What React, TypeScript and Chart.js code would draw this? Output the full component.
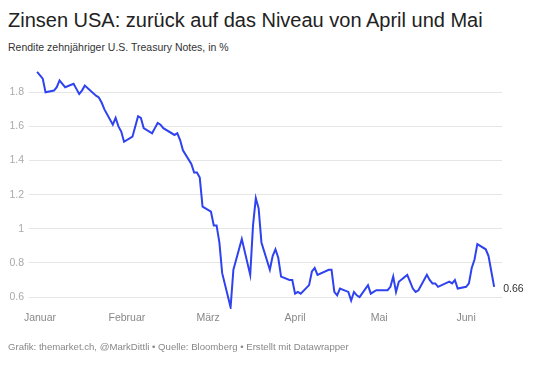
import React, { useEffect, useRef } from 'react';
import { Chart, registerables } from 'chart.js';

Chart.register(...registerables);

// ---- Data ----
const dates = [
  '2019-12-31', '2020-01-02', '2020-01-03', '2020-01-06', '2020-01-07', '2020-01-08', '2020-01-09', '2020-01-10',
  '2020-01-13', '2020-01-14', '2020-01-15', '2020-01-16', '2020-01-17', '2020-01-21', '2020-01-22', '2020-01-23',
  '2020-01-24', '2020-01-27', '2020-01-28', '2020-01-29', '2020-01-30', '2020-01-31',
  '2020-02-03', '2020-02-04', '2020-02-05', '2020-02-06', '2020-02-07', '2020-02-10', '2020-02-11', '2020-02-12',
  '2020-02-13', '2020-02-14', '2020-02-18', '2020-02-19', '2020-02-20', '2020-02-21', '2020-02-24', '2020-02-25',
  '2020-02-26', '2020-02-27', '2020-02-28',
  '2020-03-02', '2020-03-03', '2020-03-04', '2020-03-05', '2020-03-06', '2020-03-09', '2020-03-10', '2020-03-11',
  '2020-03-12', '2020-03-13', '2020-03-16', '2020-03-17', '2020-03-18', '2020-03-19', '2020-03-20', '2020-03-23',
  '2020-03-24', '2020-03-25', '2020-03-26', '2020-03-27', '2020-03-30', '2020-03-31',
  '2020-04-01', '2020-04-02', '2020-04-03', '2020-04-06', '2020-04-07', '2020-04-08', '2020-04-09', '2020-04-13',
  '2020-04-14', '2020-04-15', '2020-04-16', '2020-04-17', '2020-04-20', '2020-04-21', '2020-04-22', '2020-04-23',
  '2020-04-24', '2020-04-27', '2020-04-28', '2020-04-29', '2020-04-30',
  '2020-05-01', '2020-05-04', '2020-05-05', '2020-05-06', '2020-05-07', '2020-05-08', '2020-05-11', '2020-05-12',
  '2020-05-13', '2020-05-14', '2020-05-15', '2020-05-18', '2020-05-19', '2020-05-20', '2020-05-21', '2020-05-22',
  '2020-05-26', '2020-05-27', '2020-05-28', '2020-05-29',
  '2020-06-01', '2020-06-02', '2020-06-03', '2020-06-04', '2020-06-05', '2020-06-08', '2020-06-09', '2020-06-10',
  '2020-06-11',
];

const yields = [
  1.92, 1.88, 1.80, 1.81, 1.83, 1.87, 1.85, 1.83,
  1.85, 1.82, 1.79, 1.81, 1.84, 1.78, 1.77, 1.74,
  1.70, 1.61, 1.65, 1.60, 1.57, 1.51,
  1.54, 1.60, 1.66, 1.65, 1.59, 1.56, 1.59, 1.62,
  1.61, 1.59, 1.55, 1.56, 1.52, 1.46, 1.38, 1.33,
  1.33, 1.30, 1.13,
  1.10, 1.02, 1.02, 0.92, 0.74, 0.54, 0.76, 0.82,
  0.88, 0.94, 0.73, 1.02, 1.18, 1.12, 0.92, 0.76,
  0.84, 0.88, 0.83, 0.72, 0.70, 0.70,
  0.62, 0.63, 0.62, 0.67, 0.75, 0.77, 0.73, 0.76,
  0.76, 0.63, 0.61, 0.65, 0.63, 0.58, 0.63, 0.61,
  0.60, 0.67, 0.62, 0.63, 0.64,
  0.64, 0.64, 0.66, 0.72, 0.63, 0.69, 0.73, 0.69,
  0.65, 0.63, 0.64, 0.73, 0.70, 0.68, 0.68, 0.66,
  0.69, 0.68, 0.70, 0.65,
  0.66, 0.68, 0.77, 0.82, 0.91, 0.88, 0.84, 0.75,
  0.66,
];

const monthLabels = ['Januar', 'Februar', 'März', 'April', 'Mai', 'Juni'];
const monthStarts = ['2020-01-01', '2020-02-01', '2020-03-01', '2020-04-01', '2020-05-01', '2020-06-01'];
const yTicks = [0.6, 0.8, 1, 1.2, 1.4, 1.6, 1.8];

const TITLE = 'Zinsen USA: zurück auf das Niveau von April und Mai';
const SUBTITLE = 'Rendite zehnjähriger U.S. Treasury Notes, in %';
const FOOTER = 'Grafik: themarket.ch, @MarkDittli • Quelle: Bloomberg • Erstellt mit Datawrapper';

const FONT = '"Liberation Sans", Arial, Helvetica, sans-serif';
const LINE_COLOR = '#2e42ef';

function dayIndex(s: string): number {
  const [y, m, d] = s.split('-').map(Number);
  return (Date.UTC(y, m - 1, d) - Date.UTC(2020, 0, 1)) / 86400000;
}

const endLabelPlugin = {
  id: 'endLabel',
  afterDatasetsDraw(chart: any) {
    const meta = chart.getDatasetMeta(0);
    const pts = meta.data;
    if (!pts || !pts.length) return;
    const last = pts[pts.length - 1];
    const ctx = chart.ctx;
    ctx.save();
    ctx.font = `10.5px ${FONT}`;
    ctx.fillStyle = '#333333';
    ctx.textAlign = 'left';
    ctx.textBaseline = 'middle';
    ctx.fillText(String(yields[yields.length - 1]), last.x + 9, last.y + 2);
    ctx.restore();
  },
};

export default function App() {
  const canvasRef = useRef<HTMLCanvasElement | null>(null);

  useEffect(() => {
    if (!canvasRef.current) return;
    const points = dates.map((d, i) => ({ x: dayIndex(d), y: yields[i] }));
    const monthDays = monthStarts.map(dayIndex);
    const chart = new Chart(canvasRef.current, {
      type: 'line',
      data: {
        datasets: [
          {
            data: points,
            borderColor: LINE_COLOR,
            borderWidth: 2,
            pointRadius: 0,
            tension: 0,
            fill: false,
          },
        ],
      },
      options: {
        animation: false,
        responsive: false,
        maintainAspectRatio: false,
        layout: { padding: { top: 65, right: 38, bottom: 35, left: 0 } },
        plugins: { legend: { display: false }, tooltip: { enabled: false } },
        scales: {
          x: {
            type: 'linear',
            min: -3.9,
            max: 164.8,
            grid: { display: false, drawTicks: false },
            border: { display: false },
            afterBuildTicks: (scale: any) => {
              scale.ticks = monthDays.map((v) => ({ value: v }));
            },
            afterFit: (scale: any) => {
              scale.height = 22;
            },
            ticks: {
              autoSkip: false,
              maxRotation: 0,
              padding: 3,
              color: '#888888',
              font: { family: FONT, size: 10.5 },
              callback: (v: any) => {
                const idx = monthDays.indexOf(Number(v));
                return idx >= 0 ? monthLabels[idx] : '';
              },
            },
          },
          y: {
            type: 'linear',
            min: 0.53,
            max: 1.96,
            grid: { color: '#e6e6e6', lineWidth: 1, drawTicks: false },
            border: { display: false },
            afterBuildTicks: (scale: any) => {
              scale.ticks = yTicks.map((v) => ({ value: v }));
            },
            afterFit: (scale: any) => {
              scale.width = 29;
            },
            ticks: {
              padding: 5,
              color: '#aaaaaa',
              font: { family: FONT, size: 10.5 },
              callback: (v: any) => String(Math.round(Number(v) * 10) / 10),
            },
          },
        },
      },
      plugins: [endLabelPlugin],
    });
    return () => chart.destroy();
  }, []);

  return (
    <div style={{ position: 'absolute', left: 0, top: 0, width: 540, height: 366, background: '#fff', overflow: 'hidden' }}>
      <div style={{ position: 'absolute', left: 8, top: 9.6, fontFamily: FONT, fontSize: 20, lineHeight: '20px', color: '#222', whiteSpace: 'nowrap' }}>
        {TITLE}
      </div>
      <div style={{ position: 'absolute', left: 8, top: 41.8, fontFamily: FONT, fontSize: 10.5, lineHeight: '10.5px', color: '#333', whiteSpace: 'nowrap' }}>
        {SUBTITLE}
      </div>
      <canvas ref={canvasRef} width={540} height={366} style={{ position: 'absolute', left: 0, top: 0, width: 540, height: 366 }} />
      <div style={{ position: 'absolute', left: 8, top: 342.3, fontFamily: FONT, fontSize: 9.6, lineHeight: '10px', color: '#888', whiteSpace: 'nowrap' }}>
        {FOOTER}
      </div>
    </div>
  );
}
